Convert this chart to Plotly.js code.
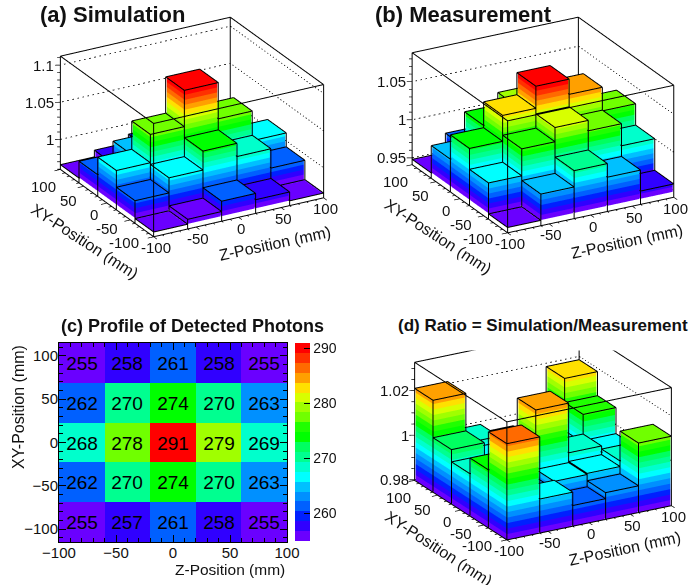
<!DOCTYPE html>
<html><head><meta charset="utf-8">
<script src="https://cdn.plot.ly/plotly-3.0.1.min.js"></script>
<style>html,body{margin:0;padding:0;background:#fff}#c{width:691px;height:585px}</style>
</head><body><div id="c"></div>
<script>
const palette=['#6a00ff','#3000ff','#0020ff','#0060ff','#0090ff','#00c0ff','#00ffff','#00ffcc','#00ff90','#00ff60','#00ff00','#20ff00','#70ff00','#a0ff00','#d8ff00','#ffe000','#ffa000','#ff6a00','#ff3000','#ff0000'];
const binCentersZ=[-80,-40,0,40,80];
const binCentersXY=[-92,-46,0,46,92];
const binEdges=[-100,-60,-20,20,60,100];
const axisTicks=[-100,-50,0,50,100];
// rows run from XY=-100 to XY=100, columns from Z=-100 to Z=100
const photons=[[255,257,261,258,255],[262,270,274,270,263],[268,278,291,279,269],[262,270,274,270,263],[255,258,261,258,255]];
const simulation=[[.966,.9726,.9865,.978,.966],[.99,1.0103,1.0358,1.018,.992],[1.0125,1.0506,1.0994,1.0506,1.0107],[.9887,1.0053,1.0264,1.01,.99],[.966,.975,.986,.975,.966]];
const measurement=[[.948,.9825,1.0039,.986,.9585],[.9886,1.024,1.0427,1.029,1.0],[1.016,1.05,1.079,1.059,1.028],[.984,1.019,1.035,1.02,.985],[.948,.973,.99,.98,.95]];
const ratio=[[1.0229,.995,.989,.9917,1.0109],[1.0058,.991,.9945,.995,.9975],[.9987,.992,1.0212,.9989,.996],[1.0042,.996,.998,.995,1.0077],[1.021,.9987,.995,.99,1.0185]];
const panelA={id:'scene',title:'(a) Simulation',vals:simulation,floor:.9596,top:1.112,lo:.966,hi:1.0994,zt:[1,1.05,1.1],zm:.01,fmt:v=>String(+v.toFixed(2)),
 box:[42,342,2,252],L:[585,570,372],phi:29.4,th:24,scale:1.56};
const panelB={id:'scene2',title:'(b) Measurement',vals:measurement,floor:.941,top:1.088,lo:.948,hi:1.079,zt:[.95,1,1.05],zm:.01,fmt:v=>String(+v.toFixed(2)),
 box:[395,691,0,250],L:[570,598,366],phi:28.7,th:23,scale:1.59};
const panelD={id:'scene3',title:'(d) Ratio = Simulation/Measurement',vals:ratio,floor:.9797,top:1.0327,lo:.9797,hi:1.029,zt:[.98,1,1.02],zm:.005,fmt:v=>String(+v.toFixed(2)),
 box:[395,691,324,544],L:[580,573,389],phi:29.6,th:21.5,scale:1.72};
const W=691,H=585,INSET=0.8;
const traces=[],annotations=[],layout={};
const font={family:'"Liberation Sans",Arial,sans-serif',color:'#111'};
function seg(arr,a,b){arr.x.push(a[0],b[0],null);arr.y.push(a[1],b[1],null);arr.z.push(a[2],b[2],null);}
function lines(scene,l,width,dash){traces.push({type:'scatter3d',mode:'lines',scene,x:l.x,y:l.y,z:l.z,connectgaps:false,hoverinfo:'skip',showlegend:false,line:{color:'#000',width,dash:dash||'solid'}});}
function buildPanel(p){
 const X=[],Y=[],Z=[],I=[],J=[],K=[],F=[];
 const quad=(a,b,c,d,col)=>{const n=X.length;[a,b,c,d].forEach(v=>{X.push(v[0]);Y.push(v[1]);Z.push(v[2]);});I.push(n,n);J.push(n+1,n+2);K.push(n+2,n+3);F.push(col,col);};
 const step=(p.hi-p.lo)/palette.length;
 const drop=(p.top-p.floor)*.004;
 const edges={x:[],y:[],z:[]};
 p.vals.forEach((row,j)=>row.forEach((v,i)=>{
  const ex0=binEdges[i],ex1=binEdges[i+1],ey0=binEdges[j],ey1=binEdges[j+1];
  const x0=ex0+INSET,x1=ex1-INSET,y0=ey0+INSET,y1=ey1-INSET,vt=v-drop;
  const sides=(z0,z1,col)=>{
   quad([x0,y0,z0],[x1,y0,z0],[x1,y0,z1],[x0,y0,z1],col);
   quad([x0,y0,z0],[x0,y1,z0],[x0,y1,z1],[x0,y0,z1],col);
   quad([x1,y0,z0],[x1,y1,z0],[x1,y1,z1],[x1,y0,z1],col);
   quad([x0,y1,z0],[x1,y1,z0],[x1,y1,z1],[x0,y1,z1],col);
  };
  if(p.lo>p.floor) sides(p.floor,Math.min(p.lo,vt),'#ffffff');
  let topCol=palette[0];
  palette.forEach((c,k)=>{const a=p.lo+k*step,b=a+step;if(v>a){if(vt>a)sides(a,Math.min(b,vt),c);topCol=c;}});
  quad([ex0,ey0,vt],[ex1,ey0,vt],[ex1,ey1,vt],[ex0,ey1,vt],topCol);
  [[ex0,ey0],[ex1,ey0],[ex1,ey1],[ex0,ey1]].forEach((c,m,all)=>{const n=all[(m+1)%4];seg(edges,[c[0],c[1],v],[n[0],n[1],v]);seg(edges,[c[0],c[1],p.floor],[c[0],c[1],v]);});
 }));
 traces.push({type:'mesh3d',scene:p.id,x:X,y:Y,z:Z,i:I,j:J,k:K,facecolor:F,flatshading:true,hoverinfo:'skip',showscale:false,
  lighting:{ambient:1,diffuse:0,specular:0,fresnel:0,roughness:1},lightposition:{x:0,y:0,z:1e5}});
 lines(p.id,edges,2);
 const f=p.floor,t=p.top,box={x:[],y:[],z:[]},grid={x:[],y:[],z:[]},ticks={x:[],y:[],z:[]};
 const A=-100,B=100;
 [[A,A],[B,A],[B,B],[A,B]].forEach((c,m,all)=>{const n=all[(m+1)%4];seg(box,[c[0],c[1],t],[n[0],n[1],t]);seg(box,[c[0],c[1],f],[c[0],c[1],t]);});
 seg(box,[A,A,f],[B,A,f]);seg(box,[A,A,f],[A,B,f]);
 p.zt.forEach(v=>{seg(grid,[A,B,v],[B,B,v]);seg(grid,[B,B,v],[B,A,v]);});
 for(let v=-100;v<=100;v+=10){const maj=v%50===0,l=maj?7:3.5;
  seg(ticks,[v,A,f],[v,A-l,f]);seg(ticks,[A,v,f],[A-l,v,f]);}
 for(let v=Math.ceil(f/p.zm)*p.zm;v<=t;v+=p.zm){const maj=p.zt.some(q=>Math.abs(q-v)<1e-6),l=maj?5:3;seg(ticks,[A,B,v],[A-l,B+l*.52,v]);}
 lines(p.id,box,2);lines(p.id,grid,1.6,'dot');lines(p.id,ticks,1.4);
 const scAnn=[];
 const tf={family:font.family,size:15,color:'#111'},tt={family:font.family,size:16,color:'#111'};
 axisTicks.forEach(v=>{
  scAnn.push({x:v,y:A,z:f,text:String(v),showarrow:false,xanchor:'center',yanchor:'middle',xshift:2,yshift:-11,font:tf});
  const u=(100-v)/200;
  scAnn.push({x:A,y:v,z:f,text:String(v),showarrow:false,xanchor:'right',yanchor:'middle',xshift:-(2+11*u),yshift:-(17-11*u),font:tf});
 });
 p.zt.forEach(v=>scAnn.push({x:A,y:B,z:v,text:p.fmt(v),showarrow:false,xanchor:'right',yanchor:'middle',xshift:-4,yshift:0,font:tf}));
 scAnn.push({x:0,y:A,z:f,text:'Z-Position (mm)',showarrow:false,textangle:-12,xshift:36,yshift:-26,font:tt});
 scAnn.push({x:A,y:0,z:f,text:'XY-Position (mm)',showarrow:false,textangle:33,xshift:-22,yshift:-38,font:tt});
 const k=p.scale/Math.max(...p.L),ext=108/100,rz=t-f;
 const rad=Math.PI/180,cp=Math.cos(p.phi*rad),sp=Math.sin(p.phi*rad),ct=Math.cos(p.th*rad),st=Math.sin(p.th*rad);
 const ax={visible:false,showgrid:false,zeroline:false,showspikes:false,showticklabels:false,showbackground:false,autorange:false};
 layout[p.id]={domain:{x:[p.box[0]/W,p.box[1]/W],y:[1-p.box[3]/H,1-p.box[2]/H]},
  bgcolor:'rgba(0,0,0,0)',aspectmode:'manual',
  aspectratio:{x:p.L[0]*k*ext,y:p.L[1]*k*ext,z:p.L[2]*k*(1+2*.01)},
  xaxis:{...ax,range:[-108,108]},yaxis:{...ax,range:[-108,108]},zaxis:{...ax,range:[f-rz*.01,t+rz*.01]},
  camera:{projection:{type:'orthographic'},up:{x:0,y:0,z:1},center:{x:0,y:0,z:0},
   eye:{x:-2*sp*ct,y:-2*cp*ct,z:2*st}},
  annotations:scAnn};
}
[panelA,panelB,panelD].forEach(buildPanel);
// heatmap
const hx=[59,287],hy=[343,542];
const cs=[];palette.forEach((c,i)=>{cs.push([i/palette.length,c],[(i+1)/palette.length,c]);});
traces.push({type:'heatmap',x:binCentersZ,y:binCentersXY,z:photons,zmin:255,zmax:291,colorscale:cs,xgap:0,ygap:0,hoverinfo:'skip',
 texttemplate:'%{z}',textfont:{family:font.family,size:19,color:'#000'},
 colorbar:{x:295/W,xanchor:'left',xpad:0,ypad:0,y:1-343/H,yanchor:'top',lenmode:'pixels',len:198,thicknessmode:'pixels',thickness:15,
  tickvals:[260,270,280,290],ticks:'inside',ticklen:6,tickcolor:'#000',tickfont:{family:font.family,size:14,color:'#111'},outlinewidth:0}});
const ha={ticks:'inside',ticklen:7,tickwidth:1,tickcolor:'#000',mirror:'allticks',showline:true,linecolor:'#000',linewidth:1,showgrid:false,zeroline:false,
 tickvals:axisTicks,autorange:false,ticklabelstandoff:-3,tickfont:{family:font.family,size:15,color:'#111'},minor:{dtick:10,ticks:'inside',ticklen:4,tickcolor:'#000',showgrid:false}};
layout.xaxis={...ha,range:[-100,100],domain:[hx[0]/W,hx[1]/W],anchor:'y'};
layout.yaxis={...ha,range:[-115,115],domain:[1-hy[1]/H,1-hy[0]/H],anchor:'x'};
// text
const t=(text,x,y,size,extra)=>annotations.push({xref:'paper',yref:'paper',x:x/W,y:1-y/H,text,showarrow:false,font:{family:font.family,size,color:'#111'},...extra});
t('Z-Position (mm)',287,569,15.5,{xanchor:'right',yanchor:'middle'});
t('XY-Position (mm)',18,343,16,{xanchor:'center',yanchor:'top',textangle:-90});
t('<b>'+panelA.title+'</b>',38,14,22,{xanchor:'left',yanchor:'middle'});
t('<b>'+panelB.title+'</b>',373,14,22,{xanchor:'left',yanchor:'middle'});
t('<b>(c) Profile of Detected Photons</b>',192,326,18,{xanchor:'center',yanchor:'middle'});
annotations.push({xref:'paper',yref:'paper',x:543/W,y:1-300/H,yanchor:'top',xanchor:'center',width:296,height:47,bgcolor:'#fff',text:'<b>'+panelD.title+'</b>',valign:'middle',showarrow:false,font:{family:font.family,size:17,color:'#111'}});
Object.assign(layout,{width:W,height:H,margin:{l:0,r:0,t:0,b:0},paper_bgcolor:'#fff',plot_bgcolor:'#fff',showlegend:false,annotations});
Plotly.newPlot('c',traces,layout,{displayModeBar:false,responsive:false});
</script></body></html>
